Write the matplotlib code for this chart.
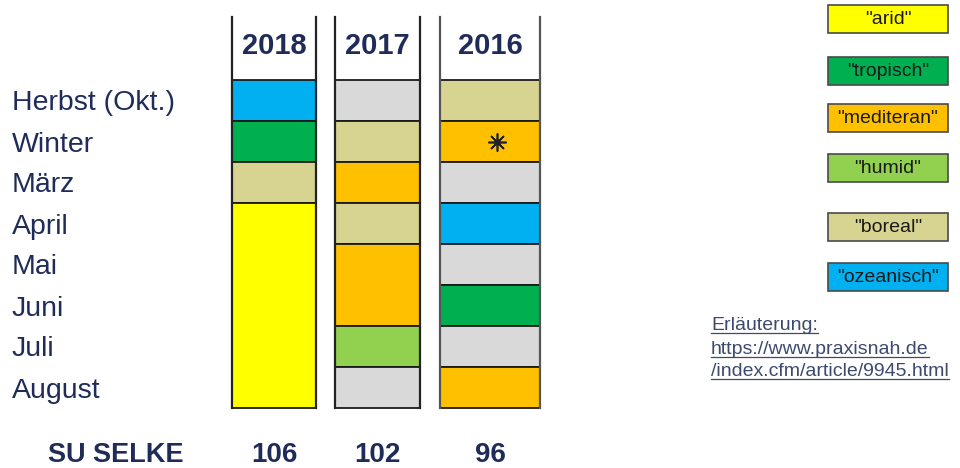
import matplotlib
matplotlib.use("Agg")
import matplotlib.pyplot as plt

plt.rcParams['font.family'] = ['Liberation Sans', 'DejaVu Sans']

# ---------------- data ----------------
months = ["Herbst (Okt.)", "Winter", "März", "April", "Mai", "Juni", "Juli", "August"]
years = ["2018", "2017", "2016"]
su_values = [106, 102, 96]
types_2018 = ["ozeanisch", "tropisch", "boreal", "arid", "arid", "arid", "arid", "arid"]
types_2017 = ["none", "boreal", "mediteran", "boreal", "mediteran", "mediteran", "humid", "none"]
types_2016 = ["boreal", "mediteran", "none", "ozeanisch", "none", "tropisch", "none", "mediteran"]
legend_types = ["arid", "tropisch", "mediteran", "humid", "boreal", "ozeanisch"]
legend_labels = ['"arid"', '"tropisch"', '"mediteran"', '"humid"', '"boreal"', '"ozeanisch"']
note_lines = ["Erläuterung:", "https://www.praxisnah.de", "/index.cfm/article/9945.html"]
star_year, star_month = "2016", "Winter"

# ---------------- styles ----------------
colors = {
    "arid": "#ffff00",
    "tropisch": "#00b050",
    "mediteran": "#ffc000",
    "humid": "#92d050",
    "boreal": "#d7d492",
    "ozeanisch": "#00b0f0",
    "none": "#d9d9d9",
}
navy = "#1f2c58"

fig = plt.figure(figsize=(9.6, 4.68), dpi=100)
ax = fig.add_axes([0, 0, 1, 1])
ax.set_xlim(0, 960)
ax.set_ylim(468, 0)
ax.axis("off")

row_top0 = 80
row_h = 41
col_left = [232, 335, 440]
col_right = [316, 420, 540]
head_top = 17
bottom = row_top0 + row_h * len(months)

all_types = [types_2018, types_2017, types_2016]

for ci, (yr, types) in enumerate(zip(years, all_types)):
    l, r = col_left[ci], col_right[ci]
    w = r - l
    cx = (l + r) / 2
    # merge consecutive identical segments
    i = 0
    while i < len(types):
        j = i
        while j + 1 < len(types) and types[j + 1] == types[i]:
            j += 1
        top = row_top0 + row_h * i
        h = row_h * (j - i + 1)
        ax.bar(cx, h, bottom=top, width=w, color=colors[types[i]],
               edgecolor="#1a1a1a", linewidth=1.3, zorder=2)
        i = j + 1
    vc = "#222222" if ci < 2 else "#555555"
    ax.plot([l, l], [head_top, bottom], color=vc, lw=1.6, zorder=3)
    ax.plot([r, r], [head_top, bottom], color=vc, lw=1.6, zorder=3)
    ax.text(cx, 46, yr, ha="center", va="center", fontsize=21,
            fontweight="bold", color=navy)
    ax.text(cx, 455, str(su_values[ci]), ha="center", va="center",
            fontsize=20, fontweight="bold", color=navy)

# asterisk marker
sci = years.index(star_year)
smi = months.index(star_month)
sx = (col_left[sci] + col_right[sci]) / 2 + 7
sy = row_top0 + row_h * (smi + 0.5)
ax.plot(sx, sy, marker=(8, 2, 0), markersize=13, color="#222222", mew=1.2, zorder=4)
ax.plot(sx, sy, marker="o", markersize=3.5, color="#222222", zorder=4)

# month labels
for i, m in enumerate(months):
    ax.text(12, row_top0 + row_h * (i + 0.5) + 3, m, ha="left", va="center",
            fontsize=20.5, color=navy)

ax.text(48, 455, "SU SELKE", ha="left", va="center", fontsize=19.5,
        fontweight="bold", color=navy)

# legend boxes
leg_tops = [5, 57, 104, 154, 213, 263]
leg_h = 28
leg_l, leg_r = 828, 948
for t, lab, yt in zip(legend_types, legend_labels, leg_tops):
    ax.bar((leg_l + leg_r) / 2, leg_h, bottom=yt, width=leg_r - leg_l,
           color=colors[t], edgecolor="#4a4a4a", linewidth=1.2, zorder=2)
    ax.text((leg_l + leg_r) / 2, yt + leg_h / 2 + 0.5, lab, ha="center",
            va="center", fontsize=14, color="#1a1a1a", zorder=3)

# note text with underline
note_color = "#3d4a6e"
note_y = [326, 350, 372]
texts = []
for s, y in zip(note_lines, note_y):
    texts.append(ax.text(711, y, s, ha="left", va="center", fontsize=14,
                         color=note_color))
fig.canvas.draw()
inv = ax.transData.inverted()
for t in texts:
    bb = t.get_window_extent()
    (x0, y0), (x1, y1) = inv.transform([[bb.x0, bb.y0], [bb.x1, bb.y1]])
    ax.plot([x0, x1], [y0 - 1.5, y0 - 1.5], color=note_color, lw=0.9)

fig.savefig("out.png", dpi=100)
